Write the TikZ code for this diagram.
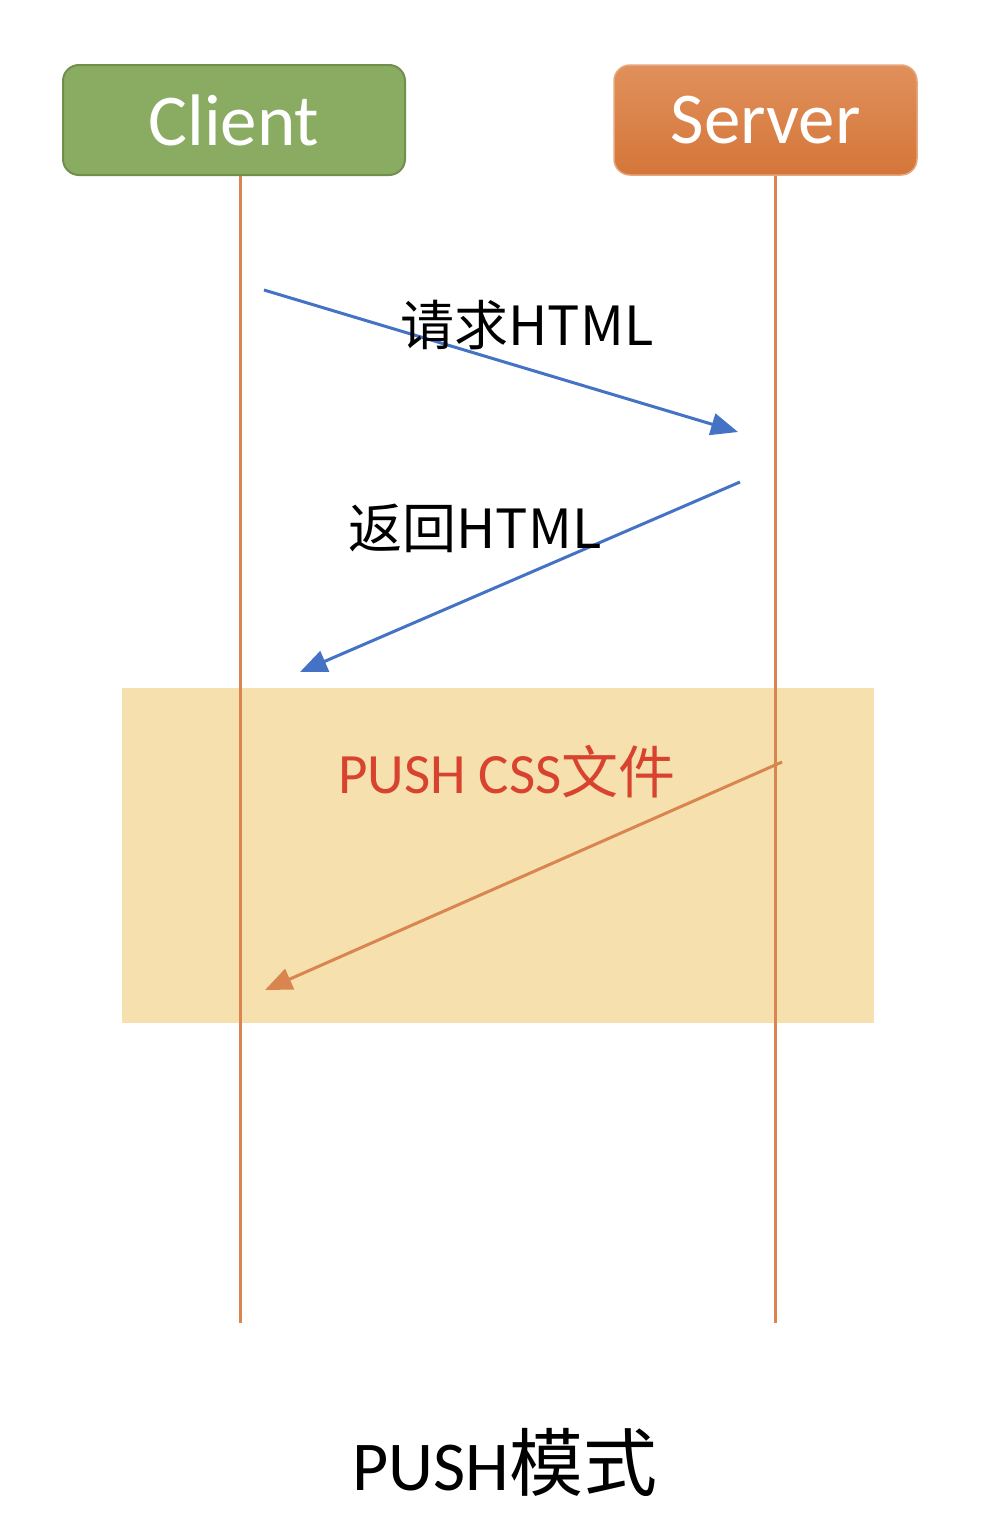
\documentclass[tikz,border=0pt]{standalone}
\usepackage{fontspec}
\setmainfont{Carlito}
\newfontfamily\cjk{Noto Sans CJK SC}
\usetikzlibrary{arrows.meta, backgrounds}

\definecolor{clientGreen}{HTML}{8AAC62}
\definecolor{clientEdge}{HTML}{6F8F4B}
\definecolor{serverTop}{HTML}{E1905B}
\definecolor{serverBot}{HTML}{D4763A}
\definecolor{lifeOrange}{HTML}{D9854F}
\definecolor{msgBlue}{HTML}{4472C4}
\definecolor{pushBox}{HTML}{F6E0AD}
\definecolor{pushRed}{HTML}{D8432F}

\begin{document}
\begin{tikzpicture}[x=1pt,y=-1pt]
            \pgfmathsetmacro{\xc}{240}
            \pgfmathsetmacro{\xs}{775}
            \pgfmathsetmacro{\yend}{1323}
            \tikzstyle{actor}=[rounded corners=16pt, minimum height=110pt, text=white, inner sep=0pt, font=\fontsize{73}{80}\selectfont]
            \tikzstyle{lifeline}=[lifeOrange, line width=3pt]
            \tikzstyle{msg}=[msgBlue, line width=3pt, -{Triangle[length=27pt,width=22pt]}]
            \tikzstyle{label}=[inner sep=0pt, font=\cjk\fontsize{54}{60}\selectfont]

            \useasboundingbox (0,0) rectangle (1000,1526);
            \fill[white] (0,0) rectangle (1000,1526);

            %%%%%%%%%%%%%%%%%%%%%%%%%%%%%%%%%%%%%%%%
            \node at (234,120) (client) [actor, fill=clientGreen, draw=clientEdge, line width=2pt, minimum width=342pt] {Client};
            \node at (765.5,120) (server) [actor, top color=serverTop, bottom color=serverBot, draw=serverTop!80!white, line width=1.5pt, minimum width=303pt] {Server};

            % push block behind the lifelines
            \node at (498,855.5) (pushbox) [fill=pushBox, inner sep=0pt, minimum width=752pt, minimum height=335pt] {};

            \coordinate (clEnd) at (\xc,\yend);
            \coordinate (svEnd) at (\xs,\yend);
            \draw[lifeline] (client.south -| clEnd) -- (clEnd);
            \draw[lifeline] (server.south -| svEnd) -- (svEnd);

            %%%%%%%%%%%%%%%%%%%%%%%%%%%%%%%%%%%%%%%%
            \coordinate (reqA) at (264,290);
            \coordinate (reqB) at (738,432);
            \draw[msg] (reqA) -- (reqB);
            \node at (527,325) (reqLbl) [label] {请求HTML};

            \coordinate (resA) at (740,482);
            \coordinate (resB) at (300,672);
            \draw[msg] (resA) -- (resB);
            \node at (475,528) (resLbl) [label] {返回HTML};

            \node at (507,772) (pushLbl) [inner sep=0pt, text=pushRed, font=\fontsize{57}{60}\selectfont] {PUSH CSS{\cjk 文件}};
            \coordinate (cssA) at (782,762);
            \coordinate (cssB) at (265,990);
            \draw[lifeOrange, line width=3pt, -{Triangle[length=27pt,width=22pt]}] (cssA) -- (cssB);

            \node at (505,1462) (title) [inner sep=0pt, font=\fontsize{70}{72}\selectfont] {PUSH{\cjk\fontsize{74}{76}\selectfont 模式}};
\end{tikzpicture}
\end{document}
